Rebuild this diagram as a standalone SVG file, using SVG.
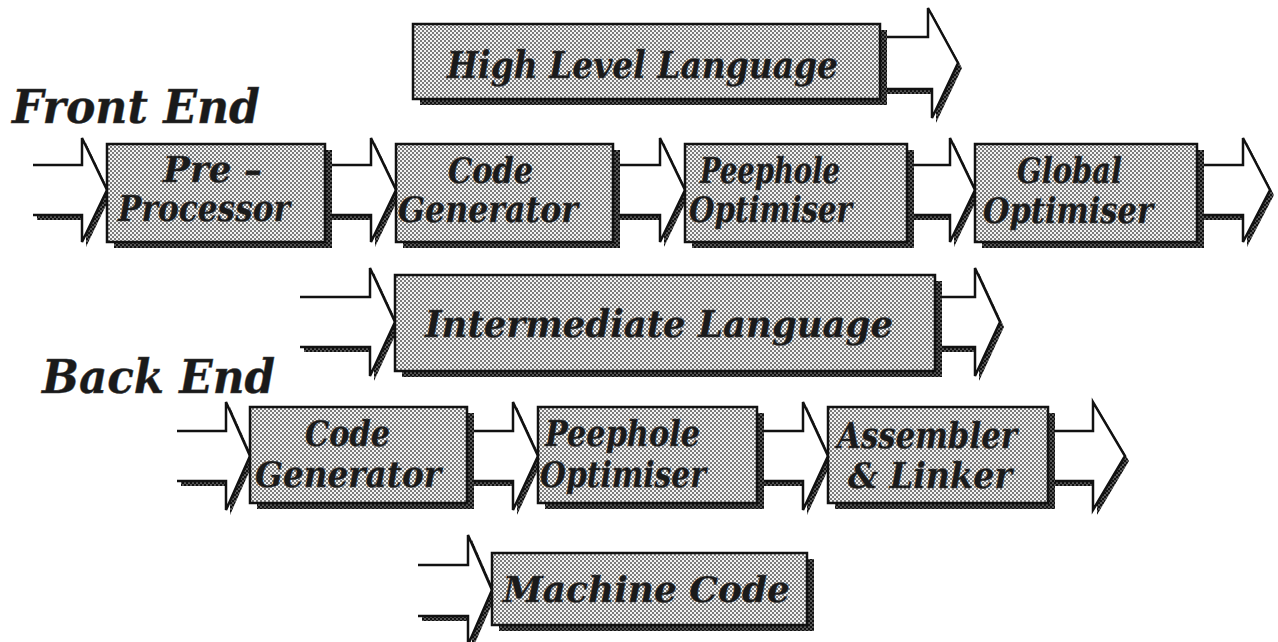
<svg xmlns="http://www.w3.org/2000/svg" width="1278" height="642" viewBox="0 0 1278 642">
<defs>
<pattern id="ht" width="4" height="4" patternUnits="userSpaceOnUse">
<rect width="4" height="4" fill="#f2f2f2"/>
<rect width="2" height="2" fill="#7a7a7a"/>
<rect x="2" y="2" width="2" height="2" fill="#7a7a7a"/>
</pattern>
<pattern id="hd" width="4" height="4" patternUnits="userSpaceOnUse">
<rect width="4" height="4" fill="#555"/>
<rect width="2" height="2" fill="#111"/>
<rect x="2" y="2" width="2" height="2" fill="#111"/>
</pattern>
</defs>
<style>
.box{fill:url(#ht);stroke:#111;stroke-width:2.5}
.bsh{fill:url(#hd)}
.afill{fill:#fff;stroke:none}
.ash{fill:url(#hd)}
.aline{fill:none;stroke:#111;stroke-width:2.5;stroke-linejoin:miter}
.lbl{font-family:"DejaVu Serif","Liberation Serif",serif;font-weight:bold;font-style:italic;font-size:35px;fill:#1a1a1a;stroke:#444;stroke-width:0.4}
.big{font-size:38px}
.title{font-family:"DejaVu Serif","Liberation Serif",serif;font-weight:bold;font-style:italic;font-size:46px;fill:#1a1a1a;stroke:#444;stroke-width:0.4}
</style>

<g id="connectors">
<path class="ash" d="M879,42 L932,42 L932,13 L962,68 L936,123 L936,94 L879,94 Z"/>
<path class="afill" d="M875,37 L928,37 L928,8 L958,63 L932,118 L932,89 L875,89 Z"/>
<path class="aline" d="M875,37 L928,37 L928,8 L958,63 L932,118 L932,89 L875,89"/>

<path class="ash" d="M37,170 L86,170 L86,143 L111,195 L86,247 L86,220 L37,220 Z"/>
<path class="afill" d="M33,165 L82,165 L82,138 L107,190 L82,242 L82,215 L33,215 Z"/>
<path class="aline" d="M33,165 L82,165 L82,138 L107,190 L82,242 L82,215 L33,215"/>

<path class="ash" d="M324,170 L375,170 L375,143 L400,195 L375,247 L375,220 L324,220 Z"/>
<path class="afill" d="M320,165 L371,165 L371,138 L396,190 L371,242 L371,215 L320,215 Z"/>
<path class="aline" d="M320,165 L371,165 L371,138 L396,190 L371,242 L371,215 L320,215"/>

<path class="ash" d="M612,170 L664,170 L664,143 L689,195 L664,247 L664,220 L612,220 Z"/>
<path class="afill" d="M608,165 L660,165 L660,138 L685,190 L660,242 L660,215 L608,215 Z"/>
<path class="aline" d="M608,165 L660,165 L660,138 L685,190 L660,242 L660,215 L608,215"/>

<path class="ash" d="M909,170 L954,170 L954,143 L979,195 L954,247 L954,220 L909,220 Z"/>
<path class="afill" d="M905,165 L950,165 L950,138 L975,190 L950,242 L950,215 L905,215 Z"/>
<path class="aline" d="M905,165 L950,165 L950,138 L975,190 L950,242 L950,215 L905,215"/>

<path class="ash" d="M1199,170 L1247,170 L1247,143 L1274,195 L1247,247 L1247,220 L1199,220 Z"/>
<path class="afill" d="M1195,165 L1243,165 L1243,138 L1270,190 L1243,242 L1243,215 L1195,215 Z"/>
<path class="aline" d="M1195,165 L1243,165 L1243,138 L1270,190 L1243,242 L1243,215 L1195,215"/>

<path class="ash" d="M304,302 L374,302 L374,273 L399,327 L374,381 L374,352 L304,352 Z"/>
<path class="afill" d="M300,297 L370,297 L370,268 L395,322 L370,376 L370,347 L300,347 Z"/>
<path class="aline" d="M300,297 L370,297 L370,268 L395,322 L370,376 L370,347 L300,347"/>

<path class="ash" d="M934,302 L979,302 L979,273 L1004,327 L979,381 L979,352 L934,352 Z"/>
<path class="afill" d="M930,297 L975,297 L975,268 L1000,322 L975,376 L975,347 L930,347 Z"/>
<path class="aline" d="M930,297 L975,297 L975,268 L1000,322 L975,376 L975,347 L930,347"/>

<path class="ash" d="M181,436 L230,436 L230,407 L254,461 L230,515 L230,486 L181,486 Z"/>
<path class="afill" d="M177,431 L226,431 L226,402 L250,456 L226,510 L226,481 L177,481 Z"/>
<path class="aline" d="M177,431 L226,431 L226,402 L250,456 L226,510 L226,481 L177,481"/>

<path class="ash" d="M464,436 L517,436 L517,407 L542,461 L517,515 L517,486 L464,486 Z"/>
<path class="afill" d="M460,431 L513,431 L513,402 L538,456 L513,510 L513,481 L460,481 Z"/>
<path class="aline" d="M460,431 L513,431 L513,402 L538,456 L513,510 L513,481 L460,481"/>

<path class="ash" d="M754,436 L807,436 L807,407 L832,461 L807,515 L807,486 L754,486 Z"/>
<path class="afill" d="M750,431 L803,431 L803,402 L828,456 L803,510 L803,481 L750,481 Z"/>
<path class="aline" d="M750,431 L803,431 L803,402 L828,456 L803,510 L803,481 L750,481"/>

<path class="ash" d="M1044,436 L1097,436 L1097,407 L1129,461 L1097,515 L1097,486 L1044,486 Z"/>
<path class="afill" d="M1040,431 L1093,431 L1093,402 L1125,456 L1093,510 L1093,481 L1040,481 Z"/>
<path class="aline" d="M1040,431 L1093,431 L1093,402 L1125,456 L1093,510 L1093,481 L1040,481"/>

<path class="ash" d="M422,570 L472,570 L472,540 L496,595 L472,650 L472,621 L422,621 Z"/>
<path class="afill" d="M418,565 L468,565 L468,535 L492,590 L468,645 L468,616 L418,616 Z"/>
<path class="aline" d="M418,565 L468,565 L468,535 L492,590 L468,645 L468,616 L418,616"/>
</g>

<g id="hll">
<rect class="bsh" x="420" y="30" width="467" height="75"/>
<rect class="box" x="413" y="24" width="467" height="75"/>
<text class="lbl big" x="447" y="78" textLength="391" lengthAdjust="spacingAndGlyphs">High Level Language</text>
</g>

<g id="front-end-label">
<text class="title" x="12" y="123" textLength="248" lengthAdjust="spacingAndGlyphs">Front End</text>
</g>

<g id="preprocessor">
<rect class="bsh" x="114" y="150" width="218" height="98"/>
<rect class="box" x="107" y="144" width="218" height="98"/>
<text class="lbl" x="163" y="182" textLength="99" lengthAdjust="spacingAndGlyphs">Pre –</text>
<text class="lbl" x="118" y="221" textLength="172" lengthAdjust="spacingAndGlyphs">Processor</text>
</g>

<g id="codegen1">
<rect class="bsh" x="403" y="150" width="217" height="98"/>
<rect class="box" x="396" y="144" width="217" height="98"/>
<text class="lbl" x="448" y="183" textLength="85" lengthAdjust="spacingAndGlyphs">Code</text>
<text class="lbl" x="398" y="222" textLength="180" lengthAdjust="spacingAndGlyphs">Generator</text>
</g>

<g id="peephole1">
<rect class="bsh" x="692" y="150" width="222" height="98"/>
<rect class="box" x="685" y="144" width="222" height="98"/>
<text class="lbl" x="700" y="183" textLength="140" lengthAdjust="spacingAndGlyphs">Peephole</text>
<text class="lbl" x="689" y="222" textLength="163" lengthAdjust="spacingAndGlyphs">Optimiser</text>
</g>

<g id="global">
<rect class="bsh" x="982" y="150" width="222" height="98"/>
<rect class="box" x="975" y="144" width="222" height="98"/>
<text class="lbl" x="1017" y="183" textLength="105" lengthAdjust="spacingAndGlyphs">Global</text>
<text class="lbl" x="983" y="223" textLength="170" lengthAdjust="spacingAndGlyphs">Optimiser</text>
</g>

<g id="il">
<rect class="bsh" x="402" y="281" width="540" height="96"/>
<rect class="box" x="395" y="275" width="540" height="96"/>
<text class="lbl big" x="425" y="337" textLength="468" lengthAdjust="spacingAndGlyphs">Intermediate Language</text>
</g>

<g id="back-end-label">
<text class="title" x="42" y="393" textLength="233" lengthAdjust="spacingAndGlyphs">Back End</text>
</g>

<g id="codegen2">
<rect class="bsh" x="257" y="413" width="217" height="96"/>
<rect class="box" x="250" y="407" width="217" height="96"/>
<text class="lbl" x="305" y="446" textLength="85" lengthAdjust="spacingAndGlyphs">Code</text>
<text class="lbl" x="255" y="487" textLength="186" lengthAdjust="spacingAndGlyphs">Generator</text>
</g>

<g id="peephole2">
<rect class="bsh" x="545" y="413" width="219" height="96"/>
<rect class="box" x="538" y="407" width="219" height="96"/>
<text class="lbl" x="545" y="446" textLength="155" lengthAdjust="spacingAndGlyphs">Peephole</text>
<text class="lbl" x="540" y="487" textLength="166" lengthAdjust="spacingAndGlyphs">Optimiser</text>
</g>

<g id="assembler">
<rect class="bsh" x="835" y="413" width="220" height="96"/>
<rect class="box" x="828" y="407" width="220" height="96"/>
<text class="lbl" x="837" y="448" textLength="180" lengthAdjust="spacingAndGlyphs">Assembler</text>
<text class="lbl" x="848" y="488" textLength="164" lengthAdjust="spacingAndGlyphs">&amp; Linker</text>
</g>

<g id="machinecode">
<rect class="bsh" x="499" y="559" width="315" height="72"/>
<rect class="box" x="492" y="553" width="315" height="72"/>
<text class="lbl" x="503" y="602" textLength="287" lengthAdjust="spacingAndGlyphs">Machine Code</text>
</g>
</svg>
